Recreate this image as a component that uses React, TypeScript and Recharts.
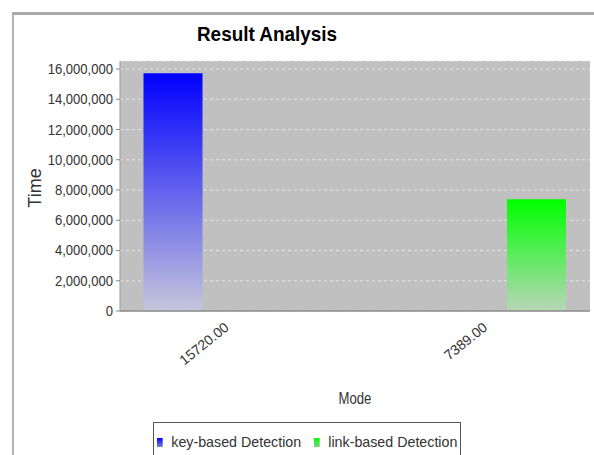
import React from "react";
import { BarChart, Bar, XAxis, YAxis, CartesianGrid, Legend } from "recharts";

const categories = ["15720.00", "7389.00"];
const keyBasedValues = [15720000, null];
const linkBasedValues = [null, 7389000];
const seriesNames = ["key-based Detection", "link-based Detection"];
const yTicks = [0, 2000000, 4000000, 6000000, 8000000, 10000000, 12000000, 14000000, 16000000];
const chartTitle = "Result Analysis";
const yAxisTitle = "Time";
const xAxisTitle = "Mode";

const data = categories.map((name, i) => ({
  name,
  keyBased: keyBasedValues[i],
  linkBased: linkBasedValues[i],
}));

const FONT = "'Liberation Sans', Arial, sans-serif";

const fmt = (v: number) => v.toLocaleString("en-US");

const squeeze = (cx: number, s: number) => `translate(${cx},0) scale(${s},1) translate(${-cx},0)`;

const YTick = (props: any) => {
  const { x, y, payload } = props;
  return (
    <text
      x={x}
      y={y}
      dy={5}
      transform={squeeze(x, 0.87)}
      textAnchor="end"
      fontFamily={FONT}
      fontSize={15}
      fill="#333"
    >
      {fmt(payload.value)}
    </text>
  );
};

const XTick = (props: any) => {
  const { x, y, payload } = props;
  const tx = x + 4;
  const ty = y + 18;
  return (
    <text
      x={tx}
      y={ty}
      transform={`rotate(-39, ${tx}, ${ty})`}
      textAnchor="end"
      fontFamily={FONT}
      fontSize={14}
      fill="#333"
    >
      {payload.value}
    </text>
  );
};

const TimeLabel = () => (
  <text
    x={35}
    y={188}
    transform="rotate(-90, 35, 188)"
    textAnchor="middle"
    dominantBaseline="central"
    fontFamily={FONT}
    fontSize={18}
    fill="#333"
  >
    {yAxisTitle}
  </text>
);

const ModeLabel = () => (
  <text
    x={355}
    y={399}
    textAnchor="middle"
    dominantBaseline="central"
    transform={squeeze(355, 0.82)}
    fontFamily={FONT}
    fontSize={16}
    fill="#333"
  >
    {xAxisTitle}
  </text>
);

const LegendContent = () => (
  <div
    style={{
      boxSizing: "border-box",
      width: 308,
      height: 40,
      border: "1px solid #555",
      background: "#fff",
      position: "relative",
      fontFamily: FONT,
      fontSize: 15,
      color: "#333",
      lineHeight: "18px",
      whiteSpace: "nowrap",
    }}
  >
    {seriesNames.map((n, i) => (
      <div
        key={n}
        style={{
          position: "absolute",
          left: i === 0 ? 3 : 160,
          top: 10,
          display: "flex",
          alignItems: "center",
          transform: "scaleX(0.95)",
          transformOrigin: "left center",
        }}
      >
        <span
          style={{
            display: "inline-block",
            width: 6,
            height: 9,
            marginRight: 9,
            background: i === 0 ? "linear-gradient(#0000ff, #8080d0)" : "linear-gradient(#00ff00, #80d080)",
          }}
        />
        {n}
      </div>
    ))}
  </div>
);

export default function App() {
  return (
    <div style={{ position: "absolute", left: 0, top: 0, width: 594, height: 455, background: "#fff", overflow: "hidden" }}>
      <div
        style={{
          position: "absolute",
          left: 12,
          top: 12,
          width: 620,
          height: 480,
          borderTop: "3px solid #a9a9a9",
          borderLeft: "2px solid #b4b4b4",
          boxSizing: "border-box",
        }}
      />
      <div
        style={{
          position: "absolute",
          left: 167,
          top: 20,
          width: 200,
          textAlign: "center",
          fontFamily: FONT,
          fontWeight: "bold",
          fontSize: 21,
          lineHeight: "28px",
          color: "#000",
          transform: "scaleX(0.9)",
          transformOrigin: "center center",
        }}
      >
        {chartTitle}
      </div>
      <div style={{ position: "absolute", left: 0, top: 0 }}>
        <BarChart
          width={594}
          height={455}
          data={data}
          margin={{ top: 61, right: 4, bottom: 0, left: 0 }}
          barSize={59}
          barGap={46}
        >
          <defs>
            <linearGradient id="gBlue" x1="0" y1="0" x2="0" y2="1">
              <stop offset="0%" stopColor="#0000ff" />
              <stop offset="100%" stopColor="#c6c6dc" />
            </linearGradient>
            <linearGradient id="gGreen" x1="0" y1="0" x2="0" y2="1">
              <stop offset="0%" stopColor="#00ff00" />
              <stop offset="100%" stopColor="#b8d6b8" />
            </linearGradient>
          </defs>
          <CartesianGrid
            fill="#c0c0c0"
            vertical={false}
            stroke="#e4e4e4"
            strokeDasharray="3 3"
          />
          <XAxis
            dataKey="name"
            interval={0}
            tickLine={false}
            tickSize={0}
            tickMargin={0}
            axisLine={{ stroke: "#8a8a8a", strokeWidth: 1.5 }}
            padding={{ left: -23.5, right: -23.5 }}
            tick={<XTick />}
            height={104}
            label={<ModeLabel />}
          />
          <YAxis
            width={120}
            domain={[0, 16530000]}
            ticks={yTicks}
            interval={0}
            tickSize={4}
            tickMargin={3}
            tickLine={{ stroke: "#888" }}
            axisLine={{ stroke: "#999" }}
            tick={<YTick />}
            label={<TimeLabel />}
          />
          <Legend
            verticalAlign="bottom"
            content={<LegendContent />}
            wrapperStyle={{ position: "absolute", left: 153, top: 422, width: 308, height: 40 }}
          />
          <Bar dataKey="keyBased" name={seriesNames[0]} fill="url(#gBlue)" isAnimationActive={false} />
          <Bar dataKey="linkBased" name={seriesNames[1]} fill="url(#gGreen)" isAnimationActive={false} />
        </BarChart>
      </div>
    </div>
  );
}
